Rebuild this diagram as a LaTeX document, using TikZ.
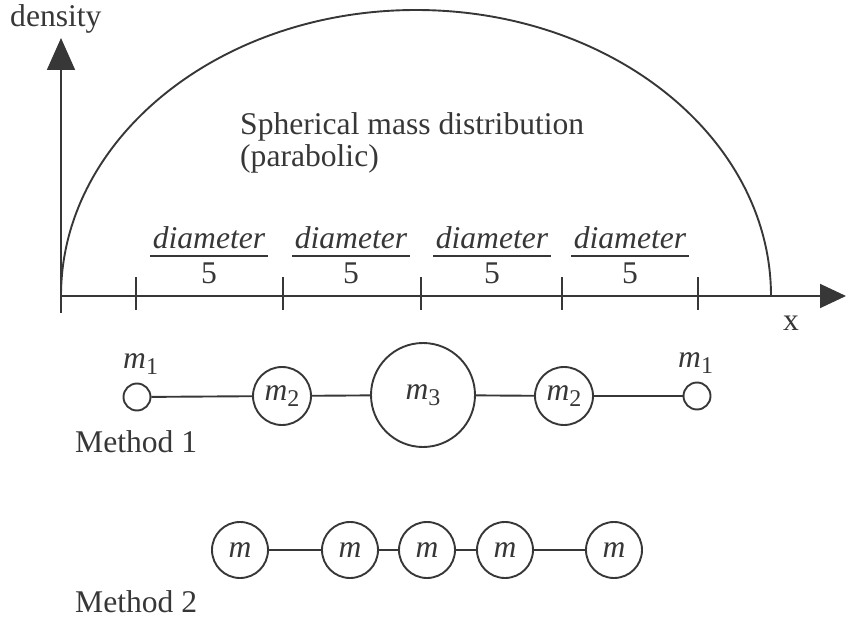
\documentclass[tikz,border=0pt]{standalone}
\usepackage{fontspec}
\setmainfont{Liberation Serif}
\usetikzlibrary{arrows.meta}
\definecolor{ink}{RGB}{55,55,55}
\newcommand{\msym}[1]{{\itshape m}\raisebox{-0.45ex}{\fontsize{24}{24}\selectfont #1}}
\begin{document}
\begin{tikzpicture}[x=1pt,y=-1pt,
  txt/.style={text=ink,font=\fontsize{31.6}{36}\selectfont,inner sep=0pt},
  ln/.style={draw=ink,line width=1.9pt},
  mass/.style={circle,draw=ink,line width=1.9pt,inner sep=0pt,text=ink,font=\fontsize{31.6}{36}\selectfont},
  tick/.style={draw=ink,line width=1.9pt},
  bar/.style={draw=ink,line width=1.2pt}]
\useasboundingbox (0,0) rectangle (846,623);
% axes
\coordinate (o) at (61,296);
\coordinate (ybot) at (61,313);
\coordinate (ytop) at (61,38);
\coordinate (xend) at (846,296);
\draw[ln,-{Triangle[width=28pt,length=32pt]}] (ybot) -- (ytop);
\draw[ln,-{Triangle[width=24pt,length=26pt]}] (o) -- (xend);
% ticks
\foreach \t/\n in {136/t1,283/t2,421/t3,562/t4,698/t5}{
  \coordinate (\n a) at (\t,277);
  \coordinate (\n b) at (\t,310);
  \draw[tick] (\n a) -- (\n b);
}
% curve
\draw[ln] (o) arc[start angle=180,end angle=0,x radius=355pt,y radius=286pt];
% labels
\node[txt,anchor=base west] (dens) at (10,27) {density};
\node[txt,anchor=base west] (xl) at (783,330) {x};
\node[txt,anchor=base west] (sph) at (240,135) {Spherical mass distribution};
\node[txt,anchor=base west] (par) at (240,166) {(parabolic)};
% fractions
\foreach \c/\n in {209/f1,351/f2,492/f3,630/f4}{
  \node[txt,anchor=base] (\n num) at (\c,248) {\itshape diameter};
  \node[txt,anchor=base] (\n den) at (\c,283) {5};
  \coordinate (\n l) at (\c-59,256);
  \coordinate (\n r) at (\c+59,256);
  \draw[bar] (\n l) -- (\n r);
}
% Method 1
\node[mass,minimum size=27pt] (a1) at (137,397) {};
\node[mass,minimum size=58pt] (a2) at (282,396) {\msym{2}};
\node[mass,minimum size=104pt] (a3) at (423,395) {\msym{3}};
\node[mass,minimum size=58pt] (a4) at (564,396) {\msym{2}};
\node[mass,minimum size=27pt] (a5) at (697,396) {};
\node[txt,anchor=base west] (l1) at (123,368) {\msym{1}};
\node[txt,anchor=base west] (l5) at (678,367) {\msym{1}};
\draw[ln] (a1) -- (a2);
\draw[ln] (a2) -- (a3);
\draw[ln] (a3) -- (a4);
\draw[ln] (a4) -- (a5);
\node[txt,anchor=base west] (m1) at (75,452) {Method 1};
% Method 2
\foreach \c/\n in {240/b1,350/b2,427/b3,505/b4,614/b5}{
  \node[mass,minimum size=56pt] (\n) at (\c,550) {\itshape m};
}
\draw[ln] (b1) -- (b2);
\draw[ln] (b2) -- (b3);
\draw[ln] (b3) -- (b4);
\draw[ln] (b4) -- (b5);
\node[txt,anchor=base west] (m2) at (75,612) {Method 2};
\end{tikzpicture}
\end{document}
